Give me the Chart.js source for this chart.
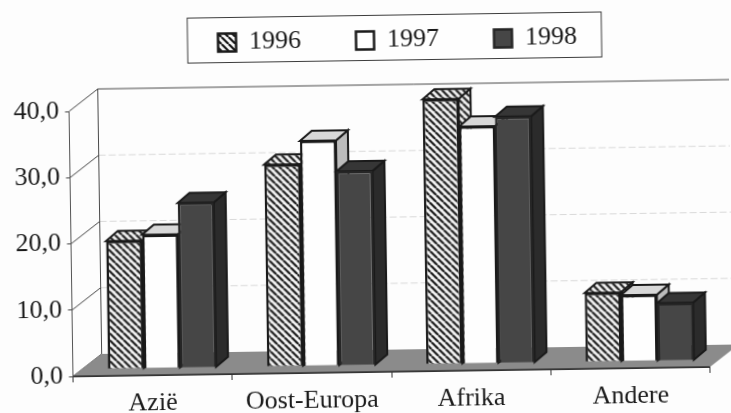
<!DOCTYPE html>
<html>
<head>
<meta charset="utf-8">
<script src="https://cdn.jsdelivr.net/npm/chart.js@4"></script>
<style>
  html, body { margin: 0; padding: 0; background: #fdfdfd; overflow: hidden; }
  /* the scan sits slightly crooked */
  #chart { display: block; transform: rotate(-0.85deg); transform-origin: 50% 50%; }
</style>
</head>
<body>
<canvas id="chart" width="731" height="413"></canvas>
<script>
const categories = ['Azië', 'Oost-Europa', 'Afrika', 'Andere'];
const seriesNames = ['1996', '1997', '1998'];
const values1996 = [19.3, 30.5, 40.0, 10.4];
const values1997 = [20.2, 34.0, 35.8, 10.0];
const values1998 = [24.9, 29.3, 37.2, 8.7];

const FONT = { family: '"Liberation Serif", serif', size: 26 };
const INK = '#1a1a1a';

// depth of the floor / back wall, and of the bars standing on it
const wall = { dx: 29, dy: -22 };
const barPlane = { dx: 9.5, dy: -6.8 };
const barDepth = { dx: 12, dy: -10 };

function hatch() {
    const c = document.createElement('canvas');
    c.width = c.height = 7;
    const g = c.getContext('2d');
    g.fillStyle = '#f8f8f8';
    g.fillRect(0, 0, 7, 7);
    g.strokeStyle = '#141414';
    g.lineWidth = 2.2;
    g.beginPath();
    for (let i = -7; i <= 7; i += 7) {
        g.moveTo(i, 0);
        g.lineTo(i + 7, 7);
    }
    g.stroke();
    return g.createPattern(c, 'repeat');
}

const hatched = hatch();
const sideColors = [
    { top: hatched, side: hatched },
    { top: '#d8d8d8', side: '#bcbcbc' },
    { top: '#363636', side: '#2b2b2b' }
];

function poly(ctx, pts, fill, stroke, width) {
    ctx.beginPath();
    pts.forEach((p, i) => i ? ctx.lineTo(p[0], p[1]) : ctx.moveTo(p[0], p[1]));
    ctx.closePath();
    if (fill) {
        ctx.fillStyle = fill;
        ctx.fill();
    }
    if (stroke) {
        ctx.strokeStyle = stroke;
        ctx.lineWidth = width;
        ctx.stroke();
    }
}

const scene = {
    id: 'scene',
    afterLayout(chart) {
        // legend row is placed by hand, off centre like the original
        const legend = chart.legend;
        const w = legend.right - legend.left;
        legend.left = 165.5;
        legend.right = legend.left + w;
        legend.top = -27.6;
    },
    beforeDraw(chart) {
        const ctx = chart.ctx;
        ctx.save();
        ctx.fillStyle = '#fefefe';
        ctx.strokeStyle = '#3c3c3c';
        ctx.lineWidth = 1;
        ctx.fillRect(190, 15.5, 414, 45);
        ctx.strokeRect(190, 15.5, 414, 45);
        ctx.restore();
    },
    beforeDatasetsDraw(chart) {
        const { ctx, chartArea: a, scales } = chart;
        const y = scales.y;
        ctx.save();

        // back wall
        ctx.lineWidth = 1;
        y.ticks.forEach(t => {
            const py = y.getPixelForValue(t.value);
            if (t.value > 0 && t.value < 40) {
                ctx.strokeStyle = 'rgba(110,110,110,0.25)';
                ctx.setLineDash([7, 3]);
                ctx.beginPath();
                ctx.moveTo(a.left + wall.dx, py + wall.dy);
                ctx.lineTo(a.right + wall.dx, py + wall.dy);
                ctx.stroke();
                ctx.setLineDash([]);
            }
            ctx.strokeStyle = '#4a4a4a';
            ctx.beginPath();
            ctx.moveTo(a.left, py);
            ctx.lineTo(a.left + wall.dx, py + wall.dy);
            ctx.stroke();
        });
        ctx.strokeStyle = '#4a4a4a';
        ctx.beginPath();
        ctx.moveTo(a.left + wall.dx, a.bottom + wall.dy);
        ctx.lineTo(a.left + wall.dx, a.top + wall.dy);
        ctx.lineTo(a.right + wall.dx, a.top + wall.dy);
        ctx.stroke();

        // floor
        poly(ctx, [
            [a.left, a.bottom],
            [a.right, a.bottom],
            [a.right + wall.dx, a.bottom + wall.dy],
            [a.left + wall.dx, a.bottom + wall.dy]
        ], '#8b8b8b');
        ctx.strokeStyle = '#333';
        ctx.lineWidth = 1.5;
        ctx.beginPath();
        ctx.moveTo(a.left, a.bottom);
        ctx.lineTo(a.right, a.bottom);
        ctx.stroke();

        // bars, left to right, each with its side and top first
        ctx.translate(barPlane.dx, barPlane.dy);
        chart.data.datasets.forEach((ds, i) => {
            const meta = chart.getDatasetMeta(i);
            meta.data.forEach(bar => {
                const l = bar.x - bar.width / 2;
                const r = bar.x + bar.width / 2;
                const dx = barDepth.dx;
                const dy = barDepth.dy;
                poly(ctx, [[r, bar.y], [r + dx, bar.y + dy], [r + dx, bar.base + dy], [r, bar.base]],
                    sideColors[i].side, INK, 2);
                poly(ctx, [[l, bar.y], [l + dx, bar.y + dy], [r + dx, bar.y + dy], [r, bar.y]],
                    sideColors[i].top, INK, 2);
            });
            meta.controller.draw();
        });
        ctx.restore();
        return false;
    }
};

new Chart(document.getElementById('chart'), {
    type: 'bar',
    data: {
        labels: categories,
        datasets: [
            { label: seriesNames[0], data: values1996, backgroundColor: hatched, borderColor: INK, borderWidth: 2.5 },
            { label: seriesNames[1], data: values1997, backgroundColor: '#fefefe', borderColor: INK, borderWidth: 2.5 },
            { label: seriesNames[2], data: values1998, backgroundColor: '#464646', borderColor: '#262626', borderWidth: 2.5 }
        ]
    },
    options: {
        responsive: false,
        animation: false,
        layout: { padding: { top: 16, right: 23.4, left: 0, bottom: 0 } },
        datasets: { bar: { categoryPercentage: 0.68, barPercentage: 1 } },
        plugins: {
            tooltip: { enabled: false },
            legend: {
                position: 'top',
                align: 'start',
                labels: { font: FONT, color: INK, boxWidth: 18, boxHeight: 18, padding: 55 }
            }
        },
        scales: {
            x: {
                afterFit(s) { s.height = 41; },
                grid: { drawOnChartArea: false, offset: true, tickLength: 6, color: '#333' },
                border: { color: '#333' },
                ticks: { font: FONT, color: INK, padding: 7, maxRotation: 0 }
            },
            y: {
                min: 0,
                max: 40,
                afterFit(s) { s.width = 70.5; },
                grid: { drawOnChartArea: false, tickLength: 4, color: '#444' },
                border: { color: '#555' },
                ticks: {
                    stepSize: 10,
                    font: FONT,
                    color: INK,
                    padding: 6,
                    callback: v => v.toFixed(1).replace('.', ',')
                }
            }
        }
    },
    plugins: [scene]
});
</script>
</body>
</html>
